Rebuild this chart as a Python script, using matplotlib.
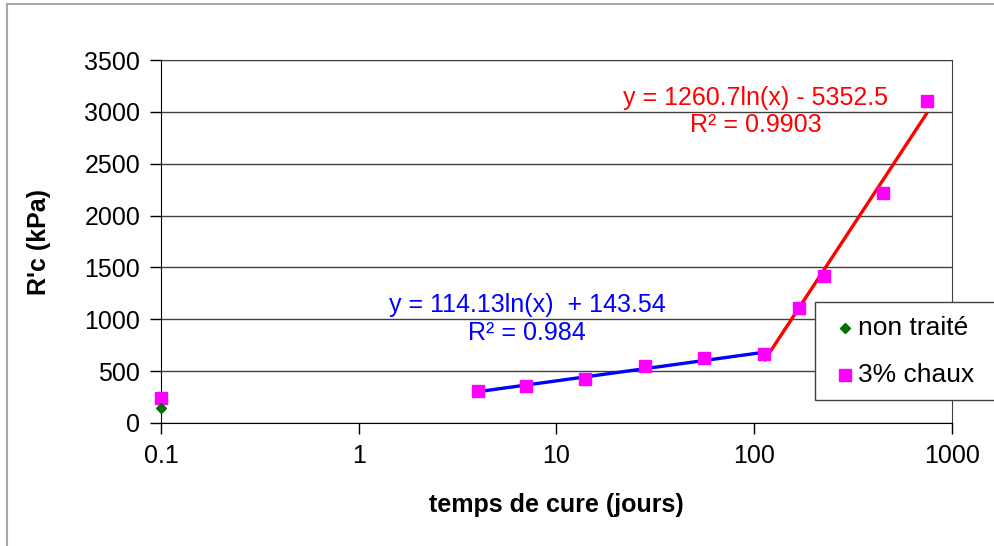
"""Compressive strength vs curing time, log x axis with two log trend lines."""
import matplotlib
matplotlib.use("Agg")
import matplotlib.pyplot as plt
from matplotlib.lines import Line2D
from matplotlib.patches import Rectangle
import numpy as np

# untreated soil
x_raw = [0.1]
y_raw = [141]

# 3% lime
x_lime = [0.1, 4, 7, 14, 28, 56, 112, 168, 224, 448, 750]
y_lime = [237, 310, 358, 428, 550, 630, 662, 1109, 1413, 2218, 3107]

# trend lines as printed on the chart: y = a ln(x) + b
fit_blue = (114.13, 143.54)   # from 4 to 112 days
fit_red = (1260.7, -5352.5)   # from 112 to 750 days
blue_range = [4, 112]
red_range = [112, 750]

series_names = ["non traité", "3% chaux"]

plt.rcParams["font.family"] = ["Liberation Sans", "DejaVu Sans"]

W, H = 995, 546
fig = plt.figure(figsize=(W / 100, H / 100), dpi=100)
ax = fig.add_axes([161 / W, 1 - 423 / H, (952 - 161) / W, (423 - 60) / H])


def fx(px):
    return px / W


def fy(py):
    return 1 - py / H


for (a, b), xr, col in [(fit_blue, blue_range, "#0000ff"), (fit_red, red_range, "#ff0000")]:
    xs = np.array(xr, dtype=float)
    ax.plot(xs, a * np.log(xs) + b, color=col, lw=2.4, solid_capstyle="butt", zorder=3)

ax.plot(x_lime, y_lime, ls="", marker="s", ms=8.5, color="#ff00ff", zorder=4, clip_on=False)
ax.plot(x_raw, y_raw, ls="", marker="D", ms=5.5, color="#007000", zorder=5, clip_on=False)

ax.set_xscale("log")
ax.set_xlim(0.1, 1000)
ax.set_ylim(0, 3500)
ax.set_xticks([0.1, 1, 10, 100, 1000])
ax.set_xticklabels(["0.1", "1", "10", "100", "1000"])
ax.xaxis.set_minor_locator(matplotlib.ticker.NullLocator())
ax.set_yticks(range(0, 3501, 500))
ax.tick_params(axis="both", direction="out", length=8, width=1, labelsize=18, colors="black")
ax.tick_params(axis="x", pad=7)
ax.tick_params(axis="y", pad=7)

ax.yaxis.grid(True, color="#404040", lw=1)
ax.set_axisbelow(True)
for s in ["top", "right"]:
    ax.spines[s].set_color("#404040")
for s in ["left", "bottom"]:
    ax.spines[s].set_color("black")

ax.set_xlabel("temps de cure (jours)", fontsize=18, fontweight="bold", labelpad=18)
ax.set_ylabel("R'c (kPa)", fontsize=18, fontweight="bold", labelpad=24)

# trend line equations
for px, py, s, col in [
    (527, 305, "y = 114.13ln(x)  + 143.54", "#0000ff"),
    (527, 333, "R² = 0.984", "#0000ff"),
    (756, 98, "y = 1260.7ln(x) - 5352.5", "#ff0000"),
    (756, 125, "R² = 0.9903", "#ff0000"),
]:
    fig.text(fx(px), fy(py), s, color=col, fontsize=18, ha="center", va="center")

# legend box, running off the right edge as in the original
fig.add_artist(Rectangle((fx(815), fy(400)), fx(1010) - fx(815), fy(302) - fy(400),
                         transform=fig.transFigure, facecolor="white", edgecolor="#404040",
                         lw=1, zorder=6))
for py, name, mk, ms, col in [(328, series_names[0], "D", 5.5, "#007000"),
                              (375, series_names[1], "s", 8.5, "#ff00ff")]:
    fig.add_artist(Line2D([fx(845)], [fy(py)], transform=fig.transFigure, ls="", marker=mk,
                          ms=ms, color=col, zorder=7))
    fig.text(fx(858), fy(py), name, fontsize=19, ha="left", va="center", zorder=7)

# outer chart border (top and left visible)
fig.add_artist(Line2D([fx(7), 1], [fy(4)] * 2, transform=fig.transFigure, color="#a8a8a8", lw=1.5))
fig.add_artist(Line2D([fx(7)] * 2, [0, fy(4)], transform=fig.transFigure, color="#a8a8a8", lw=1.5))

fig.savefig("out.png", dpi=100)
